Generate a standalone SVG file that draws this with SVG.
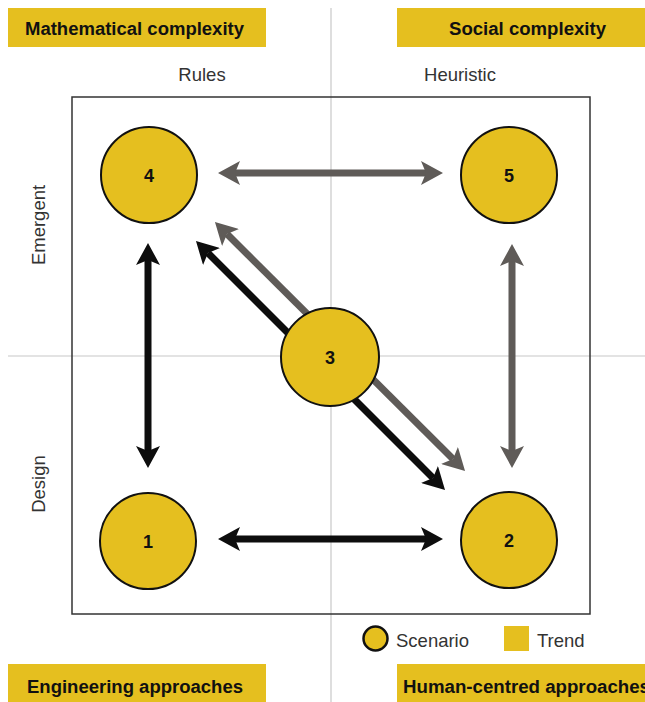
<svg xmlns="http://www.w3.org/2000/svg" width="645" height="702" viewBox="0 0 645 702">
  <style>
    .band { fill: #E5BF1F; }
    .title { font-family: "Liberation Sans", Arial, sans-serif; font-weight: bold; font-size: 18px; fill: #111; }
    .axis { font-family: "Liberation Sans", Arial, sans-serif; font-size: 18.5px; fill: #333; }
    .node circle { fill: #E5BF1F; stroke: #111; stroke-width: 2; }
    .node text { font-family: "Liberation Sans", Arial, sans-serif; font-weight: bold; font-size: 18px; fill: #111; text-anchor: middle; }
    .guide { stroke: #c8c8c8; stroke-width: 1.2; fill: none; }
    .link { fill: none; stroke-width: 7; }
    .dark { stroke: #0d0d0d; marker-start: url(#headDark); marker-end: url(#headDark); }
    .grey { stroke: #5f5b58; marker-start: url(#headGrey); marker-end: url(#headGrey); }
  </style>
  <defs>
    <marker id="headDark" viewBox="0 0 22 24" refX="5" refY="12" markerWidth="22" markerHeight="24" markerUnits="userSpaceOnUse" orient="auto-start-reverse">
      <path d="M0,0 L22,12 L0,24 L5,12 Z" fill="#0d0d0d"/>
    </marker>
    <marker id="headGrey" viewBox="0 0 22 24" refX="5" refY="12" markerWidth="22" markerHeight="24" markerUnits="userSpaceOnUse" orient="auto-start-reverse">
      <path d="M0,0 L22,12 L0,24 L5,12 Z" fill="#5f5b58"/>
    </marker>
  </defs>

  <rect width="645" height="702" fill="#fff"/>

  <!-- quadrant guides -->
  <g id="guides">
    <line class="guide" x1="331" y1="8" x2="331" y2="702"/>
    <line class="guide" x1="8" y1="356" x2="645" y2="356"/>
  </g>

  <!-- frame -->
  <rect id="frame" x="72" y="97" width="518" height="517" fill="none" stroke="#333" stroke-width="1.5"/>

  <!-- quadrant headings -->
  <g id="heading-math">
    <rect class="band" x="8" y="8" width="258" height="39"/>
    <text class="title" x="25" y="35" textLength="219" lengthAdjust="spacingAndGlyphs">Mathematical complexity</text>
  </g>
  <g id="heading-social">
    <rect class="band" x="397" y="8" width="248" height="39"/>
    <text class="title" x="449" y="35" textLength="157" lengthAdjust="spacingAndGlyphs">Social complexity</text>
  </g>
  <g id="heading-engineering">
    <rect class="band" x="8" y="664" width="258" height="38"/>
    <text class="title" x="27" y="693" textLength="216" lengthAdjust="spacingAndGlyphs">Engineering approaches</text>
  </g>
  <g id="heading-human">
    <rect class="band" x="397" y="664" width="248" height="38"/>
    <text class="title" x="403" y="693" textLength="247" lengthAdjust="spacingAndGlyphs">Human-centred approaches</text>
  </g>

  <!-- axis labels -->
  <g id="axis-labels">
    <text class="axis" x="202" y="81" text-anchor="middle">Rules</text>
    <text class="axis" x="460" y="81" text-anchor="middle">Heuristic</text>
    <text class="axis" transform="translate(45,225) rotate(-90)" text-anchor="middle">Emergent</text>
    <text class="axis" transform="translate(45,484) rotate(-90)" text-anchor="middle">Design</text>
  </g>

  <!-- connectors -->
  <g id="connectors">
    <line class="link grey" x1="235" y1="173" x2="426" y2="173"/>
    <line class="link dark" x1="235" y1="539" x2="426" y2="539"/>
    <line class="link dark" x1="148" y1="260" x2="148" y2="451"/>
    <line class="link grey" x1="512" y1="261" x2="512" y2="451"/>
    <line class="link dark" x1="208" y1="253" x2="433" y2="478"/>
    <line class="link grey" x1="227" y1="234" x2="453" y2="459"/>
  </g>

  <!-- scenarios -->
  <g id="node-4" class="node">
    <circle cx="149" cy="175" r="48"/>
    <text x="149" y="182">4</text>
  </g>
  <g id="node-5" class="node">
    <circle cx="509" cy="175" r="48"/>
    <text x="509" y="182">5</text>
  </g>
  <g id="node-1" class="node">
    <circle cx="148" cy="541" r="48"/>
    <text x="148" y="548">1</text>
  </g>
  <g id="node-2" class="node">
    <circle cx="509" cy="540" r="48"/>
    <text x="509" y="547">2</text>
  </g>
  <g id="node-3" class="node">
    <circle cx="330" cy="357" r="49"/>
    <text x="330" y="364">3</text>
  </g>

  <!-- legend -->
  <g id="legend">
    <circle cx="375.5" cy="638.5" r="12" fill="#E5BF1F" stroke="#111" stroke-width="2.5"/>
    <text class="axis" x="396" y="647">Scenario</text>
    <rect class="band" x="504" y="626" width="25" height="25"/>
    <text class="axis" x="537" y="647">Trend</text>
  </g>
</svg>
